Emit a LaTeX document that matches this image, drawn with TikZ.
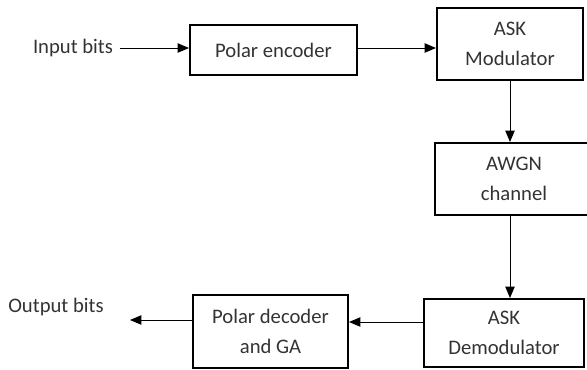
\documentclass[tikz,border=0pt]{standalone}
\usepackage{fontspec}
\setmainfont{Carlito}
\usetikzlibrary{arrows.meta}
\tikzset{
  blk/.style={draw,line width=1.5pt,rectangle,align=center,inner sep=0pt,text=black!80},
  lbl/.style={text=black!80,inner sep=3pt},
  flow/.style={line width=0.75pt,-{Triangle[length=8.5pt,width=7pt]}}
}
\begin{document}
\begin{tikzpicture}[x=0.75pt,y=-0.75pt,font=\fontsize{15.5}{22}\selectfont]
\useasboundingbox (0,0) rectangle (587,369);
\node[blk,minimum width=125.25pt,minimum height=37.5pt] (enc) at (273.5,50) {Polar encoder};
\node[blk,minimum width=109.5pt,minimum height=54pt] (mod) at (510,44) {ASK\\Modulator};
\node[blk,minimum width=118pt,minimum height=54pt] (awgn) at (514,179) {AWGN\\channel};	%cut at right
\node[blk,minimum width=120pt,minimum height=51pt] (demod) at (504,333) {ASK\\Demodulator};
\node[blk,minimum width=116.25pt,minimum height=54.75pt] (dec) at (270.5,331.5) {Polar decoder\\and GA};
\node[lbl,inner sep=5pt] (in) at (73,48) {Input bits};
\node[lbl] (out) at (56,307) {Output bits};
\coordinate (outend) at (130,320);
\draw[flow] (in.east) -- (in.east -| enc.west);
\draw[flow] ([yshift=1.5pt]enc.east) -- ([yshift=1.5pt]enc.east -| mod.west);
\draw[flow] (mod.south) -- (mod.south |- awgn.north);
\draw[flow] (mod.south |- awgn.south) -- (mod.south |- demod.north);
\draw[flow] ([yshift=8.25pt]demod.west) -- ([yshift=8.25pt]demod.west -| dec.east);
\draw[flow] (dec.west |- outend) -- (outend);
\end{tikzpicture}
\end{document}
